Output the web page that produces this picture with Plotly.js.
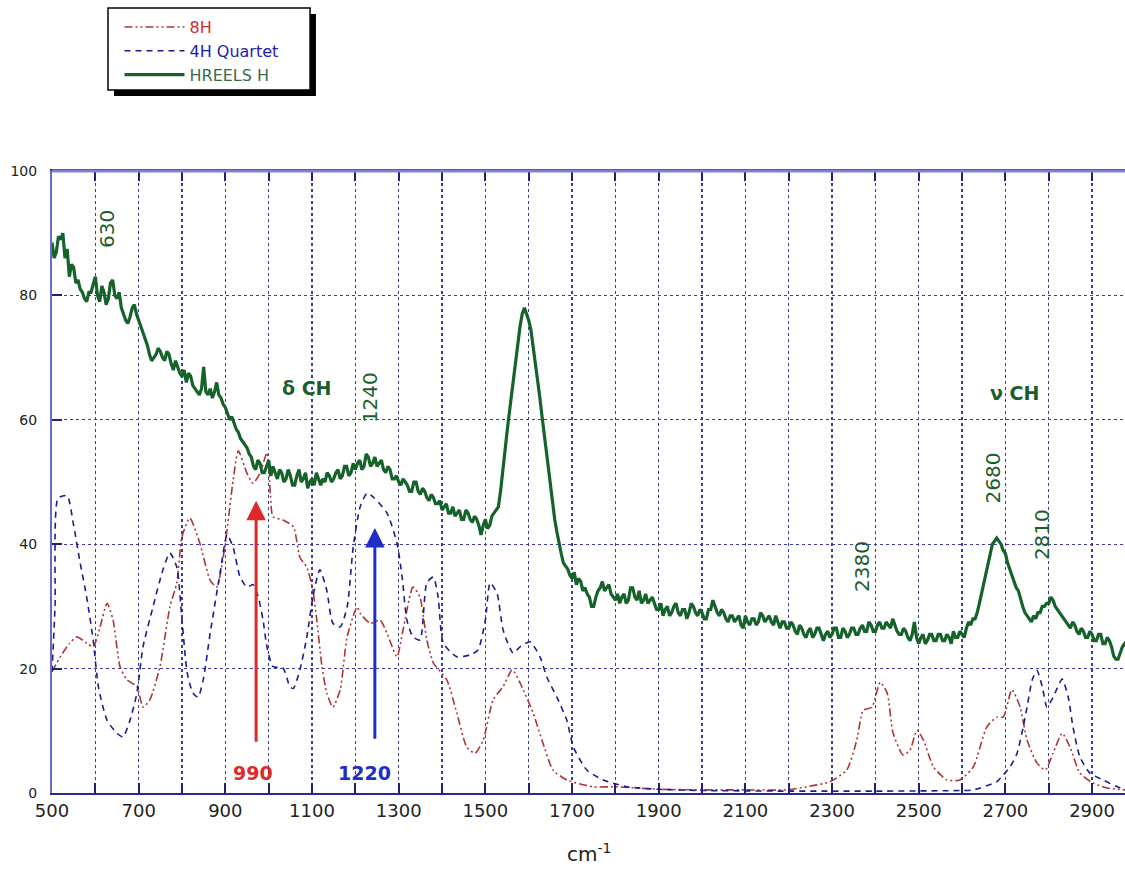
<!DOCTYPE html>
<html>
<head>
<meta charset="utf-8">
<script src="https://cdn.plot.ly/plotly-3.0.1.min.js"></script>
<style>
html,body{margin:0;padding:0;background:#fff;}
#chart{width:1125px;height:870px;}
</style>
</head>
<body>
<div id="chart"></div>
<script>
// ---- Data ----
// 8H simulated spectrum
var h8X = [500,520,540,557,580,595,611,627,641,657,673,696,710,726,749,772,788,800,818,841,865,880,895,904,918,930,950,964,980,996,1004,1010,1033,1057,1072,1088,1102,1111,1123,1134,1148,1165,1181,1204,1211,1234,1257,1273,1296,1310,1333,1349,1365,1380,1411,1434,1457,1476,1495,1518,1541,1562,1580,1610,1633,1656,1688,1749,1800,1900,2000,2100,2196,2242,2295,2334,2357,2372,2392,2411,2427,2441,2464,2480,2496,2511,2534,2565,2595,2626,2657,2680,2695,2715,2734,2750,2773,2792,2810,2831,2849,2872,2902,2935,2976];
var h8Y = [19.5,22,24,25.1,24.1,23.5,26.7,30.5,27.8,20.3,18.2,17.1,13.8,15,20.3,29.9,33.8,41.2,44.2,40.2,34.2,33.1,37.9,42.3,50.3,55,51.4,49.8,51.4,54.7,48,44.4,43.9,42.8,37.9,36.3,32.6,27.8,20.3,16.1,13.8,16.6,25.1,29.9,28.9,27.3,27.8,25.7,21.9,26.2,33.1,31.5,24.6,20.9,18.2,12.9,7.4,6.4,8.5,15,17.1,19.8,17.7,12.9,8,3.7,2.1,1,1,0.6,0.5,0.5,0.5,1,1.8,3.7,8.5,13.3,13.8,17.8,16.1,9.6,6.1,6.9,10.1,8.5,4.2,2.1,2.1,4.2,10.6,12.2,12.2,16.6,13.8,8.5,4.8,3.7,6.4,9.6,7.4,3.2,1.6,0.8,0.5];

// 4H Quartet simulated spectrum
var q4X = [500,507,514,535,549,565,580,595,607,627,650,664,680,696,710,733,756,772,788,800,812,825,837,849,865,888,904,918,934,950,964,976,987,996,1010,1033,1049,1057,1072,1088,1102,1118,1134,1148,1165,1181,1195,1211,1227,1241,1273,1296,1308,1319,1333,1349,1365,1380,1391,1403,1434,1464,1483,1500,1511,1527,1541,1564,1580,1603,1626,1642,1665,1688,1703,1734,1772,1827,1900,2000,2200,2400,2600,2626,2680,2695,2711,2727,2741,2750,2762,2773,2785,2796,2810,2831,2845,2856,2872,2895,2925,2958,2976];
var q4Y = [19.5,30,47.4,47.8,43.4,37,31.5,24.6,17.1,11.7,9.6,9,11.7,16.1,23.5,29.9,35.9,38.6,36.3,27.8,19.3,16.1,15.4,18.2,25.7,35.4,41.5,39.5,34.7,33.1,33.5,31.5,27.8,23.5,20.3,20.1,17.1,16.8,19.8,25.1,31.5,35.9,32.6,27.3,26.7,29.9,39.5,46,48.2,47.6,45,40.2,34.7,27.8,25.1,24.6,33.8,34.7,31.5,24.1,21.9,22.2,23,27.8,33.8,32.1,26.2,22.5,23.5,24.3,21.9,18.6,15.4,11.7,7.4,3.7,2.1,1,0.6,0.4,0.3,0.3,0.4,0.5,1.8,2.9,4.2,6.4,10.6,13.8,18.2,19.7,17.1,13.8,15.4,18.3,15.4,10.6,5.8,3.2,2.1,1,0.5];

// HREELS H measured spectrum, one reading every 5 cm-1 starting at 500
var hrStart = 500, hrStep = 5;
var hrY = [
88.5,86,87,89.5,89,90,86,87.5,83,85,          // 500-545
84.5,82,82.5,81,80.5,79.5,79,80.5,80.5,82,    // 550-595
83,80,79,81.5,80.5,78.5,79.5,82,82.5,80,      // 600-645
79.5,80.5,78,77,76,75.5,76.5,78,78.5,77,      // 650-695
76,75,74,73,72,70.5,69.5,70,70.5,71.5,        // 700-745
71,70,69.5,71,70.5,69,68,69.5,68.5,67.5,      // 750-795
67,68,66,67.5,67,65.5,65,64.5,64,65,          // 800-845
68.5,64.5,64,65,63.5,64.5,66,64,63.5,62.5,    // 850-895
62,61,60,60.5,59.5,58.5,58,57,56.5,56,        // 900-945
55.5,54.5,54,52.5,52,53.5,53,51.5,51.5,52.5,  // 950-995
53.5,51,52.5,51.5,50.5,52,51.5,50,50.5,52,    // 1000-1045
51,49.5,49.5,51,52,50,50.5,51.5,49,50,        // 1050-1095
50.5,49.5,51.5,50.5,49.5,50.5,50,51.5,51,50,  // 1100-1145
50.5,51.5,52,50.5,51,52.5,52.5,51,51.5,53,    // 1150-1195
52,53,53.5,52,52.5,54.5,54,52.5,53,54,        // 1200-1245
52.5,53,53.5,52,51.5,52.5,52,50.5,50.5,51,    // 1250-1295
50,49.5,50.5,50,49.5,48.5,48.5,50,50,48.5,    // 1300-1345
48,49,48.5,47.5,47,48,47.5,46.5,46.5,47,      // 1350-1395
45.5,46,46.5,45,45,46,44.5,45,45.5,44,        // 1400-1445
44,45.5,45,44,43.5,44.5,44,43,41.5,43,        // 1450-1495
44,42.5,43,44.5,45,45.5,46,48.5,52,55,        // 1500-1545
58,61,64,67,70,72.5,75,77,78,77,              // 1550-1595
76,74.5,72,69.5,67,64,61,58,55,52,            // 1600-1645
49,46.5,44,42,40,38.5,37,36.5,36,35,          // 1650-1695
34.5,35.5,33.5,34.5,34,32.5,33,32,31.5,30,    // 1700-1745
30,31.5,32.5,33,34,32.5,33,33.5,32,31.5,      // 1750-1795
31,32,30.5,31.5,32,30.5,31,33,33,31.5,        // 1800-1845
31,32.5,30.5,31,32,30.5,31,31.5,30.5,29.5,    // 1850-1895
29.5,30.5,28.5,29.5,30,28.5,29,30,30.5,29,    // 1900-1945
28.5,29.5,29.5,28,29,30.5,30,29,28.5,29.5,    // 1950-1995
29,28,28,29.5,29.5,31,30,29,28.5,29.5,        // 2000-2045
29,28,27.5,28.5,28.5,27.5,28,28.5,27,26.5,    // 2050-2095
28.5,27.5,27,28,28,27,27.5,29,28.5,27.5,      // 2100-2145
28,28.5,27.5,27,28.5,27.5,26.5,27.5,27.5,26.5,// 2150-2195
26.5,27.5,27,26,25.5,27,26.5,25.5,25,26,      // 2200-2245
26.5,25,25.5,26.5,26.5,25.5,24.5,25.5,26,25,  // 2250-2295
25.5,26.5,26.5,25,25,26.5,26,25,25.5,26.5,    // 2300-2345
26.5,25.5,25.5,26.5,27,26,26,27.5,27,26,      // 2350-2395
26,27,27.5,26.5,26.5,27.5,27,26.5,28,27,      // 2400-2445
26,25.5,25.5,26.5,26,25,24.5,25.5,27.5,25,    // 2450-2495
24,25,25.5,24,24.5,25.5,25.5,24.5,24.5,25.5,  // 2500-2545
25.5,24.5,24.5,25.5,25,24,26,25,25,26,        // 2550-2595
25.5,25,26.5,27.5,27,28,28,29,30.5,32,        // 2600-2645
33.5,35.5,37,38.5,40,40.5,41,40.5,40,39,      // 2650-2695
38.5,37,36,35,34,33,32.5,31,30,29,            // 2700-2745
28.5,28,27.5,28.5,28,29,29,30,30,30.5,        // 2750-2795
30.5,31.5,31,30,29.5,29,28.5,28,27.5,27,      // 2800-2845
26.5,27.5,27,26,25.5,26.5,26,25,25,26,        // 2850-2895
25.5,24.5,24.5,25.5,25.5,24,24,25,24.5,23.5,  // 2900-2945
22,21.5,21.5,22.5,23.5,24,23.5                // 2950-2980
];
var hrX = hrY.map(function (v, i) { return hrStart + i * hrStep; });

var xTickVals = [500,700,900,1100,1300,1500,1700,1900,2100,2300,2500,2700,2900];
var yTickVals = [0,20,40,60,80,100];

// ---- Traces ----
var traces = [
  {x: h8X, y: h8Y, name: '<span style="color:#d42a2a">8H</span>', mode: 'lines',
   line: {color: '#b03434', width: 1.6, dash: '8px,3px,2px,3px,2px,3px', shape: 'spline', smoothing: 0.6}},
  {x: q4X, y: q4Y, name: '<span style="color:#2020b4">4H Quartet</span>', mode: 'lines',
   line: {color: '#1c1c8e', width: 1.6, dash: '6px,5px', shape: 'spline', smoothing: 0.6}},
  {x: hrX, y: hrY, name: '<span style="color:#3d6a4a">HREELS H</span>', mode: 'lines',
   line: {color: '#15622a', width: 3.2}}
];

var FONT = '"DejaVu Sans", Verdana, sans-serif';
var green = '#1b5e2b';
var ann = [
  {x: 627, y: 90.7, text: '630', textangle: -90, showarrow: false, font: {size: 20, color: green}},
  {x: 1088, y: 65.1, text: '<b>δ CH</b>', showarrow: false, font: {size: 19, color: green}},
  {x: 1234, y: 63.5, text: '1240', textangle: -90, showarrow: false, font: {size: 20, color: green}},
  {x: 2369, y: 36.5, text: '2380', textangle: -90, showarrow: false, font: {size: 20, color: green}},
  {x: 2672, y: 50.6, text: '2680', textangle: -90, showarrow: false, font: {size: 20, color: green}},
  {x: 2785, y: 41.5, text: '2810', textangle: -90, showarrow: false, font: {size: 20, color: green}},
  {x: 2722, y: 64.3, text: '<b>ν CH</b>', showarrow: false, font: {size: 19, color: green}},
  {x: 964, y: 3.2, text: '<b>990</b>', showarrow: false, font: {size: 19, color: '#e02828'}},
  {x: 1222, y: 3.2, text: '<b>1220</b>', showarrow: false, font: {size: 19, color: '#1f2ec4'}},
  {x: 971, y: 47, ax: 971, ay: 8, axref: 'x', ayref: 'y', text: '', showarrow: true,
   arrowhead: 2, arrowsize: 1.3, arrowwidth: 3, arrowcolor: '#e02828'},
  {x: 1245, y: 42.6, ax: 1245, ay: 8.5, axref: 'x', ayref: 'y', text: '', showarrow: true,
   arrowhead: 2, arrowsize: 1.3, arrowwidth: 3, arrowcolor: '#1f2ec4'},
  {xref: 'paper', yref: 'paper', x: 0.5, y: -0.0965, yanchor: 'middle', text: 'cm<sup>-1</sup>', showarrow: false,
   font: {size: 20, color: '#222'}}
];

var layout = {
  width: 1125, height: 870,
  margin: {l: 52, r: 0, t: 171, b: 77},
  paper_bgcolor: '#ffffff', plot_bgcolor: '#ffffff',
  font: {family: FONT, color: '#222'},
  showlegend: true,
  legend: {x: 0.0629, y: 1.2588, xanchor: 'left', yanchor: 'top', bgcolor: 'rgba(0,0,0,0)',
           borderwidth: 0, font: {size: 16, family: FONT}, tracegroupgap: 0, itemwidth: 60},
  xaxis: {
    range: [500, 2976], tickvals: xTickVals, ticks: 'inside', ticklen: 10, tickwidth: 2, tickcolor: '#1e1e80',
    showline: true, linecolor: '#2a2a92', linewidth: 2, mirror: 'ticks',
    showgrid: true, gridcolor: '#3c3ca0', griddash: 'dot', gridwidth: 1.3,
    minor: {dtick: 100, tick0: 500, ticks: 'inside', ticklen: 10, tickwidth: 2, tickcolor: '#1e1e80',
            showgrid: true, gridcolor: '#3c3ca0', griddash: 'dot', gridwidth: 1.3},
    tickfont: {size: 18, color: '#222', family: FONT}, zeroline: false
  },
  yaxis: {
    range: [0, 100], tickvals: yTickVals, ticks: 'inside', ticklen: 10, tickwidth: 2, tickcolor: '#1e1e80',
    showline: true, linecolor: '#6a6ac8', linewidth: 2,
    showgrid: true, gridcolor: '#3c3ca0', griddash: 'dot', gridwidth: 1.3,
    tickfont: {size: 14, color: '#222', family: FONT}, zeroline: false, ticklabelstandoff: 10
  },
  annotations: ann,
  shapes: [
    {type: 'rect', xref: 'paper', yref: 'paper', x0: 0.0578, x1: 0.2460, y0: 1.1206, y1: 1.2524,
     fillcolor: '#000', line: {width: 0}},
    {type: 'rect', xref: 'paper', yref: 'paper', x0: 0.0522, x1: 0.2405, y0: 1.1302, y1: 1.2621,
     fillcolor: '#fff', line: {color: '#000', width: 1.5}},
    {type: 'line', xref: 'paper', yref: 'paper', x0: 0, x1: 1, y0: 1, y1: 1,
     line: {color: '#8080d4', width: 3}}
  ]
};

Plotly.newPlot('chart', traces, layout, {displayModeBar: false, staticPlot: true});
</script>
</body>
</html>
